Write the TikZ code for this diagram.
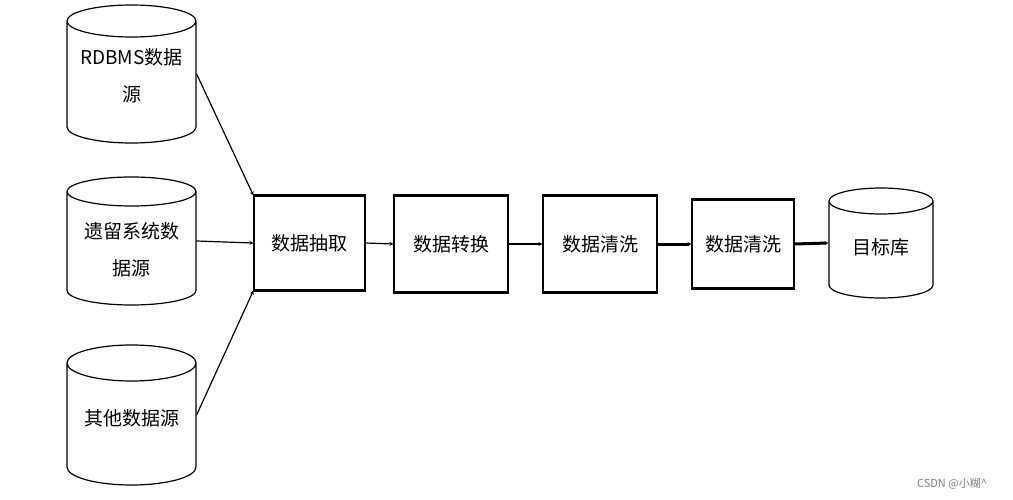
\documentclass[tikz,border=0pt]{standalone}
\usepackage{fontspec}
\newfontfamily\cjk{Noto Sans CJK SC}
\usetikzlibrary{shapes.geometric,arrows.meta}

\tikzset{
  dbcyl/.style={cylinder, shape border rotate=90, aspect=0.5, draw,
    line width=1.2pt, inner sep=0pt, anchor=shape center},
  dbtext/.style={align=center, inner sep=0pt,
    font=\cjk\fontsize{19}{37}\selectfont},
  stepbox/.style={rectangle, draw, line width=1.2pt, inner sep=0pt,
    font=\cjk\fontsize{19}{37}\selectfont},
  flow/.style={line width=1.2pt, -{Stealth[length=4pt,width=4pt]}},
}

\begin{document}
\begin{tikzpicture}[x=1pt,y=-1pt]
    \useasboundingbox (0,0) rectangle (1013,500);
    % sources
    \node [dbcyl, minimum width=129pt, minimum height=138pt] (rdbms)  at (131.5, 74)  {\rule{64pt}{0pt}};
    \node [dbcyl, minimum width=129pt, minimum height=128pt] (legacy) at (131.5, 241) {\rule{58pt}{0pt}};
    \node [dbcyl, minimum width=129pt, minimum height=140pt] (other)  at (131.5, 415) {\rule{72pt}{0pt}};
    \node [dbtext] (rdbmsT)  at ([yshift=-2pt]rdbms.shape center)  {RDBMS数据\\源};
    \node [dbtext] (legacyT) at ([yshift=-9pt]legacy.shape center) {遗留系统数\\据源};
    \node [dbtext] (otherT)  at ([yshift=-3pt]other.shape center)  {其他数据源};
    % steps
    \node [stepbox, minimum width=111pt, minimum height=94pt] (extract)   at (309.5, 243) {数据抽取};
    \node [stepbox, minimum width=114pt, minimum height=96pt] (transform) at (451, 244)   {数据转换};
    \node [stepbox, minimum width=114pt, minimum height=96pt] (cleanA)    at (600, 244)   {数据清洗};
    \node [stepbox, minimum width=102pt, minimum height=88pt] (cleanB)    at (743, 244)   {数据清洗};
    \node [dbcyl, minimum width=104pt, minimum height=110pt] (target) at (881, 243) {\rule{52pt}{0pt}};
    \node [dbtext] (targetT) at ([yshift=-4pt]target.shape center) {目标库};
    \foreach \b in {extract,transform,cleanA,cleanB} {
        \draw [line width=3pt] (\b.north west) -- (\b.north east);
        \draw [line width=3pt] (\b.south west) -- (\b.south east);
    }
    % connectors
    \draw [flow] (rdbms.shape center -| rdbms.east)   -- (extract.north west);
    \draw [flow] (legacy.shape center -| legacy.east) -- (extract.west);
    \draw [flow] (other.shape center -| other.east)   -- (extract.south west);
    \draw [flow] (extract.east)   -- (transform.west);
    \draw [flow] (transform.east) -- (cleanA.west);
    \draw [flow, line width=3pt] (cleanA.east) -- (cleanB.west);
    \draw [flow, line width=3pt] (cleanB.east) -- (target.shape center -| target.west);
    \node [gray, font=\cjk\fontsize{11}{13}\selectfont] (mark) at (952, 484) {CSDN @小糊\textasciicircum};
\end{tikzpicture}
\end{document}
